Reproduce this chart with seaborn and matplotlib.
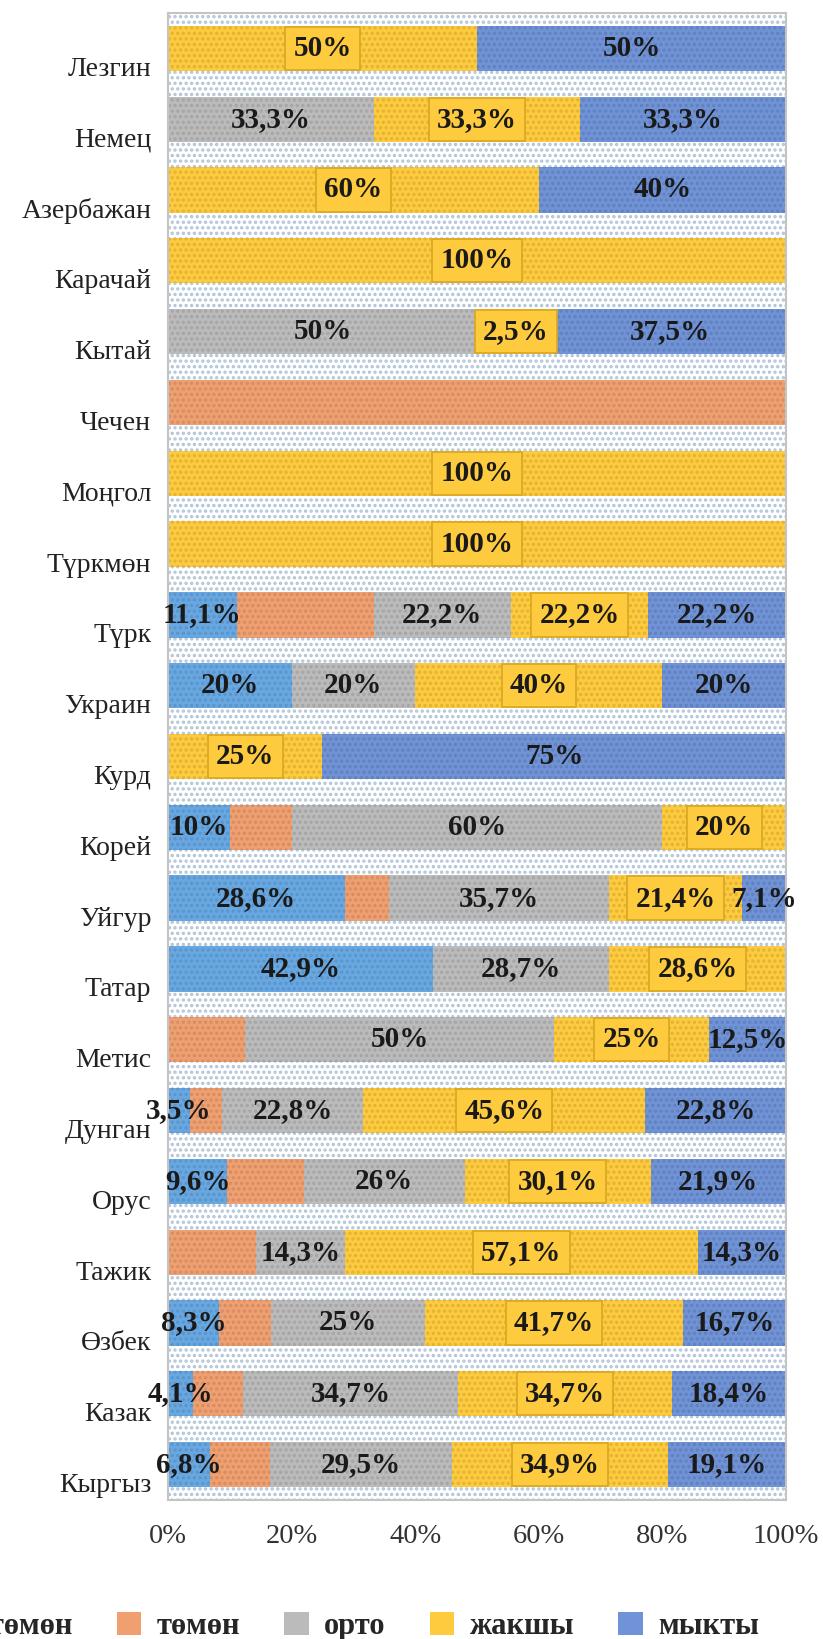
import numpy as np
import pandas as pd
import matplotlib
matplotlib.use("Agg")
import matplotlib.pyplot as plt
import matplotlib.transforms as mtransforms
from matplotlib.colors import to_rgb
from matplotlib.patches import Rectangle, Patch
import seaborn as sns

categories = ["Лезгин", "Немец", "Азербажан", "Карачай", "Кытай", "Чечен", "Моңгол",
              "Түркмөн", "Түрк", "Украин", "Курд", "Корей", "Уйгур", "Татар", "Метис",
              "Дунган", "Орус", "Тажик", "Өзбек", "Казак", "Кыргыз"]
levels = ["өтө төмөн", "төмөн", "орто", "жакшы", "мыкты"]

# shares per level, in %
oto_tomon = [0, 0, 0, 0, 0, 0, 0, 0, 11.1, 20, 0, 10, 28.6, 42.9, 0, 3.5, 9.6, 0, 8.3, 4.1, 6.8]
tomon = [0, 0, 0, 0, 0, 100, 0, 0, 22.2, 0, 0, 10, 7.1, 0, 12.5, 5.3, 12.4, 14.3, 8.3, 8.1, 9.7]
orto = [0, 33.3, 0, 0, 50, 0, 0, 0, 22.2, 20, 0, 60, 35.7, 28.5, 50, 22.8, 26, 14.3, 25, 34.7, 29.5]
jakshy = [50, 33.3, 60, 100, 12.5, 0, 100, 100, 22.2, 40, 25, 20, 21.4, 28.6, 25, 45.6, 30.1, 57.1, 41.7, 34.7, 34.9]
mykty = [50, 33.4, 40, 0, 37.5, 0, 0, 0, 22.3, 20, 75, 0, 7.2, 0, 12.5, 22.8, 21.9, 14.3, 16.7, 18.4, 19.1]

# data labels as printed on the chart
lbl_oto_tomon = ["", "", "", "", "", "", "", "", "11,1%", "20%", "", "10%", "28,6%", "42,9%", "",
                 "3,5%", "9,6%", "", "8,3%", "4,1%", "6,8%"]
lbl_tomon = [""] * 21
lbl_orto = ["", "33,3%", "", "", "50%", "", "", "", "22,2%", "20%", "", "60%", "35,7%", "28,7%", "50%",
            "22,8%", "26%", "14,3%", "25%", "34,7%", "29,5%"]
lbl_jakshy = ["50%", "33,3%", "60%", "100%", "2,5%", "", "100%", "100%", "22,2%", "40%", "25%", "20%",
              "21,4%", "28,6%", "25%", "45,6%", "30,1%", "57,1%", "41,7%", "34,7%", "34,9%"]
lbl_mykty = ["50%", "33,3%", "40%", "", "37,5%", "", "", "", "22,2%", "20%", "75%", "", "7,1%", "", "12,5%",
             "22,8%", "21,9%", "14,3%", "16,7%", "18,4%", "19,1%"]

colors = ["#68A8E2", "#F0A070", "#BBBBBB", "#FFCB3E", "#6F93D6"]
box_edge = "#D9A820"

df = pd.DataFrame({"cat": categories, levels[0]: oto_tomon, levels[1]: tomon,
                   levels[2]: orto, levels[3]: jakshy, levels[4]: mykty})
labels = [lbl_oto_tomon, lbl_tomon, lbl_orto, lbl_jakshy, lbl_mykty]
cum = df[levels].cumsum(axis=1)

sns.set_theme(style="white")
plt.rcParams["font.family"] = ["Liberation Serif", "DejaVu Serif"]
plt.rcParams["hatch.linewidth"] = 1.6

fig = plt.figure(figsize=(8.23, 16.39), dpi=100)
ax = fig.add_axes([0.2041, 0.0848, 0.751, 0.9073])

# dotted background
ax.add_patch(Rectangle((0, 0), 1, 1, transform=ax.transAxes, facecolor="white",
                       edgecolor="#AFC3D6", hatch="...", lw=0, zorder=0))

# stacked bars: draw cumulative totals from the right-most level back
for i in range(len(levels) - 1, -1, -1):
    dots = tuple(0.88 * np.array(to_rgb(colors[i])))
    sns.barplot(x=cum[levels[i]], y=df["cat"], color=colors[i], orient="h",
                width=0.64, saturation=1, ax=ax, zorder=2,
                hatch="...", edgecolor=dots, linewidth=0)

left = cum.shift(1, axis=1).fillna(0)
for i, lev in enumerate(levels):
    for j in range(len(categories)):
        txt = labels[i][j]
        if not txt:
            continue
        xc = left.loc[j, lev] + df.loc[j, lev] / 2
        kw = {}
        if i == 3:
            kw["bbox"] = dict(boxstyle="square,pad=0.28", facecolor=colors[3], edgecolor=box_edge, lw=1.2)
        ax.text(xc, j, txt, ha="center", va="center", fontsize=21, fontweight="bold",
                color="#1a1a1a", zorder=5, clip_on=False, **kw)

ax.set_xlim(0, 100)
ax.set_ylim(len(categories) - 0.5, -0.5)
ax.set_xticks([0, 20, 40, 60, 80, 100])
ax.set_xticklabels(["0%", "20%", "40%", "60%", "80%", "100%"], fontsize=20.5, color="#333333")
ax.tick_params(axis="x", length=0, pad=17)
ax.tick_params(axis="y", length=0, pad=12, labelsize=20, labelcolor="#222222")
ax.set_xlabel("")
ax.set_ylabel("")
for lab in ax.get_yticklabels():
    lab.set_transform(lab.get_transform() + mtransforms.ScaledTranslation(0, -0.18, fig.dpi_scale_trans))
for s in ax.spines.values():
    s.set_color("#C4C4C4")
    s.set_linewidth(1.5)

handles = [Patch(facecolor=c, edgecolor="none") for c in colors]
fig.legend(handles, levels, loc="center", bbox_to_anchor=(0.398, 0.0075), ncol=5, frameon=False,
           prop={"family": ["Liberation Serif", "DejaVu Serif"], "weight": "bold", "size": 22},
           handlelength=0.8, handleheight=0.8, handletextpad=0.5, columnspacing=1.45,
           borderpad=0, borderaxespad=0)

fig.savefig("out.png", dpi=100)
